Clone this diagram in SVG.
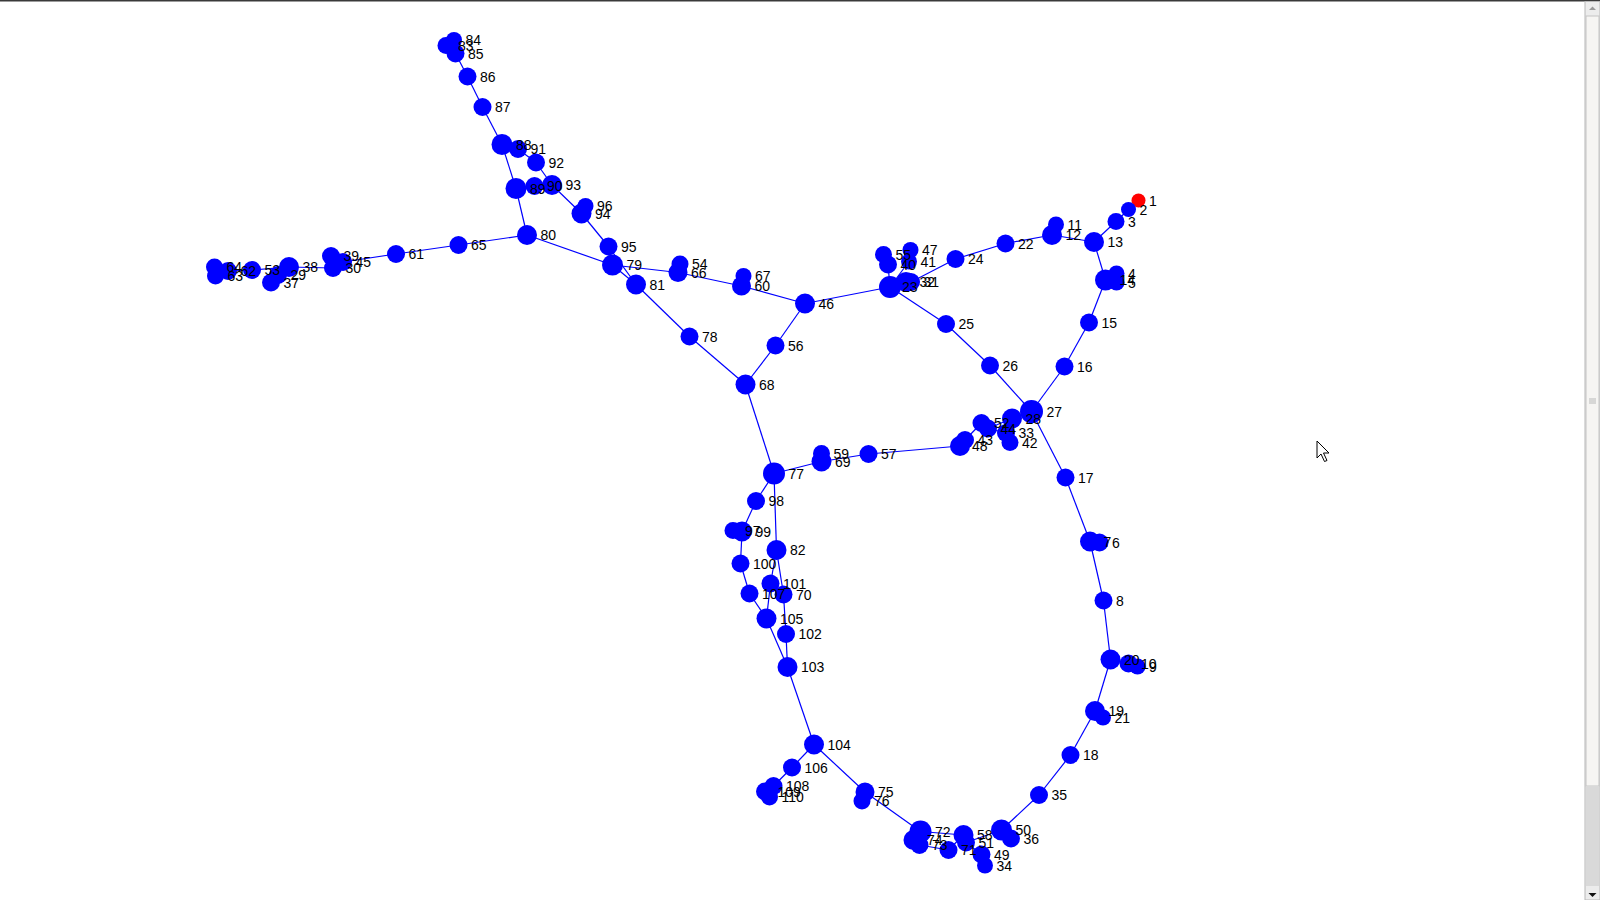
<svg xmlns="http://www.w3.org/2000/svg" width="1600" height="900" viewBox="0 0 1600 900">
<style>
.e line{stroke:#0000ff;stroke-width:1.2}
.n circle{fill:#0000ff}
.n.red circle{fill:#ff0000}
.lbl text{font-family:"Liberation Sans",Arial,sans-serif;font-size:14px;fill:#000}
</style>
<rect width="1600" height="900" fill="#ffffff"/>
<g id="connectors" class="e">
<line x1="446" y1="45.5" x2="455.5" y2="53.5"/>
<line x1="454" y1="40" x2="455.5" y2="53.5"/>
<line x1="455.5" y1="53.5" x2="467.5" y2="76.5"/>
<line x1="467.5" y1="76.5" x2="482.5" y2="107"/>
<line x1="482.5" y1="107" x2="502" y2="144.5"/>
<line x1="502" y1="144.5" x2="518" y2="149"/>
<line x1="518" y1="149" x2="536" y2="162.5"/>
<line x1="536" y1="162.5" x2="552" y2="185"/>
<line x1="502" y1="144.5" x2="516" y2="188.5"/>
<line x1="516" y1="188.5" x2="534.5" y2="186"/>
<line x1="534.5" y1="186" x2="552" y2="185"/>
<line x1="552" y1="185" x2="581.5" y2="213.5"/>
<line x1="581.5" y1="213.5" x2="585.5" y2="206"/>
<line x1="581.5" y1="213.5" x2="608.5" y2="246.5"/>
<line x1="516" y1="188.5" x2="527" y2="235"/>
<line x1="608.5" y1="246.5" x2="636" y2="284.5"/>
<line x1="527" y1="235" x2="612.5" y2="265"/>
<line x1="612.5" y1="265" x2="636" y2="284.5"/>
<line x1="612.5" y1="265" x2="678" y2="272.5"/>
<line x1="678" y1="272.5" x2="680" y2="264"/>
<line x1="678" y1="272.5" x2="741.5" y2="286"/>
<line x1="741.5" y1="286" x2="743.5" y2="276"/>
<line x1="741.5" y1="286" x2="805" y2="303.5"/>
<line x1="636" y1="284.5" x2="689.5" y2="336.5"/>
<line x1="689.5" y1="336.5" x2="745.5" y2="384.5"/>
<line x1="745.5" y1="384.5" x2="775.5" y2="345.5"/>
<line x1="775.5" y1="345.5" x2="805" y2="303.5"/>
<line x1="805" y1="303.5" x2="890" y2="287"/>
<line x1="890" y1="287" x2="888" y2="264.5"/>
<line x1="888" y1="264.5" x2="883.5" y2="254.5"/>
<line x1="890" y1="287" x2="909" y2="261.5"/>
<line x1="909" y1="261.5" x2="910.5" y2="250"/>
<line x1="890" y1="287" x2="906" y2="282"/>
<line x1="906" y1="282" x2="911" y2="282"/>
<line x1="911" y1="282" x2="955.5" y2="259"/>
<line x1="955.5" y1="259" x2="1005.5" y2="243.5"/>
<line x1="1005.5" y1="243.5" x2="1052" y2="235"/>
<line x1="1052" y1="235" x2="1056" y2="224.5"/>
<line x1="1052" y1="235" x2="1094" y2="242"/>
<line x1="1094" y1="242" x2="1116" y2="221.5"/>
<line x1="1116" y1="221.5" x2="1128.5" y2="209.5"/>
<line x1="1128.5" y1="209.5" x2="1138.5" y2="200.5"/>
<line x1="1094" y1="242" x2="1105.5" y2="280"/>
<line x1="1105.5" y1="280" x2="1116.5" y2="273.5"/>
<line x1="1105.5" y1="280" x2="1116.5" y2="282.5"/>
<line x1="1105.5" y1="280" x2="1089" y2="322.5"/>
<line x1="1089" y1="322.5" x2="1064.5" y2="366.5"/>
<line x1="1064.5" y1="366.5" x2="1031.5" y2="411.5"/>
<line x1="890" y1="287" x2="946" y2="324"/>
<line x1="946" y1="324" x2="990" y2="365.5"/>
<line x1="990" y1="365.5" x2="1031.5" y2="411.5"/>
<line x1="1031.5" y1="411.5" x2="1012" y2="418.5"/>
<line x1="1031.5" y1="411.5" x2="1065.5" y2="477.5"/>
<line x1="1065.5" y1="477.5" x2="1090" y2="541.5"/>
<line x1="1090" y1="541.5" x2="1099.5" y2="542.5"/>
<line x1="1090" y1="541.5" x2="1103.5" y2="600.5"/>
<line x1="1103.5" y1="600.5" x2="1110.5" y2="659.5"/>
<line x1="1110.5" y1="659.5" x2="1128.5" y2="663.5"/>
<line x1="1128.5" y1="663.5" x2="1137.5" y2="666.5"/>
<line x1="1110.5" y1="659.5" x2="1095" y2="711"/>
<line x1="1095" y1="711" x2="1103" y2="717.5"/>
<line x1="1095" y1="711" x2="1070.5" y2="755"/>
<line x1="1070.5" y1="755" x2="1039" y2="795"/>
<line x1="1039" y1="795" x2="1001.5" y2="830"/>
<line x1="1001.5" y1="830" x2="1011" y2="838.5"/>
<line x1="1001.5" y1="830" x2="966" y2="842.5"/>
<line x1="966" y1="842.5" x2="981.5" y2="854.5"/>
<line x1="981.5" y1="854.5" x2="985" y2="865.5"/>
<line x1="963.5" y1="835" x2="966" y2="842.5"/>
<line x1="920.5" y1="831.5" x2="963.5" y2="835"/>
<line x1="963.5" y1="835" x2="948.5" y2="850"/>
<line x1="948.5" y1="850" x2="919.5" y2="845"/>
<line x1="919.5" y1="845" x2="913.5" y2="840"/>
<line x1="913.5" y1="840" x2="920.5" y2="831.5"/>
<line x1="920.5" y1="831.5" x2="865" y2="792"/>
<line x1="865" y1="792" x2="862" y2="801"/>
<line x1="865" y1="792" x2="814" y2="744.5"/>
<line x1="814" y1="744.5" x2="792" y2="767.5"/>
<line x1="792" y1="767.5" x2="773.5" y2="786"/>
<line x1="773.5" y1="786" x2="765" y2="791.5"/>
<line x1="765" y1="791.5" x2="769.5" y2="797"/>
<line x1="814" y1="744.5" x2="787.5" y2="667"/>
<line x1="787.5" y1="667" x2="766.5" y2="618.5"/>
<line x1="787.5" y1="667" x2="786" y2="634"/>
<line x1="786" y1="634" x2="783.5" y2="594.5"/>
<line x1="783.5" y1="594.5" x2="776.5" y2="550"/>
<line x1="776.5" y1="550" x2="770.5" y2="583.5"/>
<line x1="770.5" y1="583.5" x2="766.5" y2="618.5"/>
<line x1="766.5" y1="618.5" x2="749.5" y2="593.5"/>
<line x1="749.5" y1="593.5" x2="740.5" y2="563.5"/>
<line x1="740.5" y1="563.5" x2="742" y2="531.5"/>
<line x1="742" y1="531.5" x2="733" y2="530.5"/>
<line x1="742" y1="531.5" x2="756" y2="501"/>
<line x1="756" y1="501" x2="774" y2="473.5"/>
<line x1="774" y1="473.5" x2="776.5" y2="550"/>
<line x1="774" y1="473.5" x2="745.5" y2="384.5"/>
<line x1="774" y1="473.5" x2="821.5" y2="461.5"/>
<line x1="821.5" y1="461.5" x2="821.5" y2="453.5"/>
<line x1="821.5" y1="461.5" x2="868.5" y2="454"/>
<line x1="868.5" y1="454" x2="960" y2="446"/>
<line x1="960" y1="446" x2="965" y2="440"/>
<line x1="965" y1="440" x2="981.5" y2="423"/>
<line x1="981.5" y1="423" x2="988" y2="428.5"/>
<line x1="988" y1="428.5" x2="1006" y2="433"/>
<line x1="1006" y1="433" x2="1010" y2="442.5"/>
<line x1="988" y1="428.5" x2="1012" y2="418.5"/>
<line x1="527" y1="235" x2="458.5" y2="245"/>
<line x1="458.5" y1="245" x2="396" y2="254"/>
<line x1="396" y1="254" x2="343" y2="262"/>
<line x1="343" y1="262" x2="331" y2="256"/>
<line x1="343" y1="262" x2="333" y2="268"/>
<line x1="333" y1="268" x2="289" y2="267"/>
<line x1="289" y1="267" x2="278" y2="275"/>
<line x1="278" y1="275" x2="271" y2="282.5"/>
<line x1="289" y1="267" x2="252" y2="270"/>
<line x1="252" y1="270" x2="228" y2="271"/>
<line x1="228" y1="271" x2="214.5" y2="267"/>
<line x1="228" y1="271" x2="215.5" y2="276"/>
</g>
<g id="nodes">
<g id="n1" class="n red"><circle cx="1138.5" cy="200.5" r="7"/></g>
<g id="n2" class="n"><circle cx="1128.5" cy="209.5" r="7.5"/></g>
<g id="n3" class="n"><circle cx="1116" cy="221.5" r="8.5"/></g>
<g id="n4" class="n"><circle cx="1116.5" cy="273.5" r="8"/></g>
<g id="n5" class="n"><circle cx="1116.5" cy="282.5" r="8"/></g>
<g id="n6" class="n"><circle cx="1099.5" cy="542.5" r="9"/></g>
<g id="n7" class="n"><circle cx="1090" cy="541.5" r="10"/></g>
<g id="n8" class="n"><circle cx="1103.5" cy="600.5" r="9"/></g>
<g id="n9" class="n"><circle cx="1137.5" cy="666.5" r="8"/></g>
<g id="n10" class="n"><circle cx="1128.5" cy="663.5" r="9"/></g>
<g id="n11" class="n"><circle cx="1056" cy="224.5" r="8"/></g>
<g id="n12" class="n"><circle cx="1052" cy="235" r="10"/></g>
<g id="n13" class="n"><circle cx="1094" cy="242" r="10"/></g>
<g id="n14" class="n"><circle cx="1105.5" cy="280" r="10.5"/></g>
<g id="n15" class="n"><circle cx="1089" cy="322.5" r="9"/></g>
<g id="n16" class="n"><circle cx="1064.5" cy="366.5" r="9"/></g>
<g id="n17" class="n"><circle cx="1065.5" cy="477.5" r="9"/></g>
<g id="n18" class="n"><circle cx="1070.5" cy="755" r="9"/></g>
<g id="n19" class="n"><circle cx="1095" cy="711" r="10"/></g>
<g id="n20" class="n"><circle cx="1110.5" cy="659.5" r="10"/></g>
<g id="n21" class="n"><circle cx="1103" cy="717.5" r="8"/></g>
<g id="n22" class="n"><circle cx="1005.5" cy="243.5" r="9"/></g>
<g id="n23" class="n"><circle cx="890" cy="287" r="11"/></g>
<g id="n24" class="n"><circle cx="955.5" cy="259" r="9"/></g>
<g id="n25" class="n"><circle cx="946" cy="324" r="9"/></g>
<g id="n26" class="n"><circle cx="990" cy="365.5" r="9"/></g>
<g id="n27" class="n"><circle cx="1031.5" cy="411.5" r="11.5"/></g>
<g id="n28" class="n"><circle cx="1012" cy="418.5" r="10"/></g>
<g id="n29" class="n"><circle cx="278" cy="275" r="9"/></g>
<g id="n30" class="n"><circle cx="333" cy="268" r="9"/></g>
<g id="n31" class="n"><circle cx="911" cy="282" r="9"/></g>
<g id="n32" class="n"><circle cx="906" cy="282" r="10"/></g>
<g id="n33" class="n"><circle cx="1006" cy="433" r="9"/></g>
<g id="n34" class="n"><circle cx="985" cy="865.5" r="8"/></g>
<g id="n35" class="n"><circle cx="1039" cy="795" r="9"/></g>
<g id="n36" class="n"><circle cx="1011" cy="838.5" r="9"/></g>
<g id="n37" class="n"><circle cx="271" cy="282.5" r="9"/></g>
<g id="n38" class="n"><circle cx="289" cy="267" r="10"/></g>
<g id="n39" class="n"><circle cx="331" cy="256" r="9"/></g>
<g id="n40" class="n"><circle cx="888" cy="264.5" r="9"/></g>
<g id="n41" class="n"><circle cx="909" cy="261.5" r="8"/></g>
<g id="n42" class="n"><circle cx="1010" cy="442.5" r="8.5"/></g>
<g id="n43" class="n"><circle cx="965" cy="440" r="9"/></g>
<g id="n44" class="n"><circle cx="988" cy="428.5" r="9"/></g>
<g id="n45" class="n"><circle cx="343" cy="262" r="9"/></g>
<g id="n46" class="n"><circle cx="805" cy="303.5" r="10"/></g>
<g id="n47" class="n"><circle cx="910.5" cy="250" r="8"/></g>
<g id="n48" class="n"><circle cx="960" cy="446" r="10"/></g>
<g id="n49" class="n"><circle cx="981.5" cy="854.5" r="9"/></g>
<g id="n50" class="n"><circle cx="1001.5" cy="830" r="10.5"/></g>
<g id="n51" class="n"><circle cx="966" cy="842.5" r="9"/></g>
<g id="n52" class="n"><circle cx="981.5" cy="423" r="9"/></g>
<g id="n53" class="n"><circle cx="252" cy="270" r="9"/></g>
<g id="n54" class="n"><circle cx="680" cy="264" r="8.5"/></g>
<g id="n55" class="n"><circle cx="883.5" cy="254.5" r="8.5"/></g>
<g id="n56" class="n"><circle cx="775.5" cy="345.5" r="9"/></g>
<g id="n57" class="n"><circle cx="868.5" cy="454" r="9"/></g>
<g id="n58" class="n"><circle cx="963.5" cy="835" r="10"/></g>
<g id="n59" class="n"><circle cx="821.5" cy="453.5" r="8.5"/></g>
<g id="n60" class="n"><circle cx="741.5" cy="286" r="9.5"/></g>
<g id="n61" class="n"><circle cx="396" cy="254" r="9"/></g>
<g id="n62" class="n"><circle cx="228" cy="271" r="9"/></g>
<g id="n63" class="n"><circle cx="215.5" cy="276" r="8.5"/></g>
<g id="n64" class="n"><circle cx="214.5" cy="267" r="8.5"/></g>
<g id="n65" class="n"><circle cx="458.5" cy="245" r="9"/></g>
<g id="n66" class="n"><circle cx="678" cy="272.5" r="9.5"/></g>
<g id="n67" class="n"><circle cx="743.5" cy="276" r="8"/></g>
<g id="n68" class="n"><circle cx="745.5" cy="384.5" r="10"/></g>
<g id="n69" class="n"><circle cx="821.5" cy="461.5" r="10"/></g>
<g id="n70" class="n"><circle cx="783.5" cy="594.5" r="9"/></g>
<g id="n71" class="n"><circle cx="948.5" cy="850" r="9"/></g>
<g id="n72" class="n"><circle cx="920.5" cy="831.5" r="11"/></g>
<g id="n73" class="n"><circle cx="919.5" cy="845" r="9"/></g>
<g id="n74" class="n"><circle cx="913.5" cy="840" r="10"/></g>
<g id="n75" class="n"><circle cx="865" cy="792" r="9.5"/></g>
<g id="n76" class="n"><circle cx="862" cy="801" r="8.5"/></g>
<g id="n77" class="n"><circle cx="774" cy="473.5" r="11"/></g>
<g id="n78" class="n"><circle cx="689.5" cy="336.5" r="9"/></g>
<g id="n79" class="n"><circle cx="612.5" cy="265" r="10.5"/></g>
<g id="n80" class="n"><circle cx="527" cy="235" r="10"/></g>
<g id="n81" class="n"><circle cx="636" cy="284.5" r="10"/></g>
<g id="n82" class="n"><circle cx="776.5" cy="550" r="10"/></g>
<g id="n83" class="n"><circle cx="446" cy="45.5" r="8.5"/></g>
<g id="n84" class="n"><circle cx="454" cy="40" r="8"/></g>
<g id="n85" class="n"><circle cx="455.5" cy="53.5" r="9"/></g>
<g id="n86" class="n"><circle cx="467.5" cy="76.5" r="9"/></g>
<g id="n87" class="n"><circle cx="482.5" cy="107" r="9"/></g>
<g id="n88" class="n"><circle cx="502" cy="144.5" r="10.5"/></g>
<g id="n89" class="n"><circle cx="516" cy="188.5" r="10.5"/></g>
<g id="n90" class="n"><circle cx="534.5" cy="186" r="9"/></g>
<g id="n91" class="n"><circle cx="518" cy="149" r="9"/></g>
<g id="n92" class="n"><circle cx="536" cy="162.5" r="9"/></g>
<g id="n93" class="n"><circle cx="552" cy="185" r="10"/></g>
<g id="n94" class="n"><circle cx="581.5" cy="213.5" r="10"/></g>
<g id="n95" class="n"><circle cx="608.5" cy="246.5" r="9"/></g>
<g id="n96" class="n"><circle cx="585.5" cy="206" r="8"/></g>
<g id="n97" class="n"><circle cx="733" cy="530.5" r="8.5"/></g>
<g id="n98" class="n"><circle cx="756" cy="501" r="9"/></g>
<g id="n99" class="n"><circle cx="742" cy="531.5" r="10"/></g>
<g id="n100" class="n"><circle cx="740.5" cy="563.5" r="9"/></g>
<g id="n101" class="n"><circle cx="770.5" cy="583.5" r="9"/></g>
<g id="n102" class="n"><circle cx="786" cy="634" r="9"/></g>
<g id="n103" class="n"><circle cx="787.5" cy="667" r="10"/></g>
<g id="n104" class="n"><circle cx="814" cy="744.5" r="10"/></g>
<g id="n105" class="n"><circle cx="766.5" cy="618.5" r="10"/></g>
<g id="n106" class="n"><circle cx="792" cy="767.5" r="9"/></g>
<g id="n107" class="n"><circle cx="749.5" cy="593.5" r="9"/></g>
<g id="n108" class="n"><circle cx="773.5" cy="786" r="9"/></g>
<g id="n109" class="n"><circle cx="765" cy="791.5" r="9"/></g>
<g id="n110" class="n"><circle cx="769.5" cy="797" r="8.5"/></g>
</g>
<g id="node-labels" class="lbl">
<text x="1149" y="205.5">1</text>
<text x="1139.5" y="214.5">2</text>
<text x="1128" y="226.5">3</text>
<text x="1128" y="278.5">4</text>
<text x="1128" y="287.5">5</text>
<text x="1112" y="547.5">6</text>
<text x="1103.5" y="546.5">7</text>
<text x="1116" y="605.5">8</text>
<text x="1149" y="671.5">9</text>
<text x="1141" y="668.5">10</text>
<text x="1067.5" y="229.5">11</text>
<text x="1065.5" y="240">12</text>
<text x="1107.5" y="247">13</text>
<text x="1119.5" y="285">14</text>
<text x="1101.5" y="327.5">15</text>
<text x="1077" y="371.5">16</text>
<text x="1078" y="482.5">17</text>
<text x="1083" y="760">18</text>
<text x="1108.5" y="716">19</text>
<text x="1124" y="664.5">20</text>
<text x="1114.5" y="722.5">21</text>
<text x="1018" y="248.5">22</text>
<text x="902" y="292">23</text>
<text x="968" y="264">24</text>
<text x="958.5" y="329">25</text>
<text x="1002.5" y="370.5">26</text>
<text x="1046.5" y="416.5">27</text>
<text x="1025.5" y="423.5">28</text>
<text x="290.5" y="280">29</text>
<text x="345.5" y="273">30</text>
<text x="923.5" y="287">31</text>
<text x="919.5" y="287">32</text>
<text x="1018.5" y="438">33</text>
<text x="996.5" y="870.5">34</text>
<text x="1051.5" y="800">35</text>
<text x="1023.5" y="843.5">36</text>
<text x="283.5" y="287.5">37</text>
<text x="302.5" y="272">38</text>
<text x="343.5" y="261">39</text>
<text x="900.5" y="269.5">40</text>
<text x="920.5" y="266.5">41</text>
<text x="1022" y="447.5">42</text>
<text x="977.5" y="445">43</text>
<text x="1000.5" y="433.5">44</text>
<text x="355.5" y="267">45</text>
<text x="818.5" y="308.5">46</text>
<text x="922" y="255">47</text>
<text x="972" y="451">48</text>
<text x="994" y="859.5">49</text>
<text x="1015.5" y="835">50</text>
<text x="978.5" y="847.5">51</text>
<text x="994" y="428">52</text>
<text x="264.5" y="275">53</text>
<text x="692" y="269">54</text>
<text x="895.5" y="259.5">55</text>
<text x="788" y="350.5">56</text>
<text x="881" y="459">57</text>
<text x="977" y="840">58</text>
<text x="833.5" y="458.5">59</text>
<text x="754.5" y="291">60</text>
<text x="408.5" y="259">61</text>
<text x="240.5" y="276">62</text>
<text x="227.5" y="281">63</text>
<text x="226.5" y="272">64</text>
<text x="471" y="250">65</text>
<text x="691" y="277.5">66</text>
<text x="755" y="281">67</text>
<text x="759" y="389.5">68</text>
<text x="835" y="466.5">69</text>
<text x="796" y="599.5">70</text>
<text x="961" y="855">71</text>
<text x="935" y="836.5">72</text>
<text x="932" y="850">73</text>
<text x="927" y="845">74</text>
<text x="878" y="797">75</text>
<text x="874" y="806">76</text>
<text x="788.5" y="478.5">77</text>
<text x="702" y="341.5">78</text>
<text x="626.5" y="270">79</text>
<text x="540.5" y="240">80</text>
<text x="649.5" y="289.5">81</text>
<text x="790" y="555">82</text>
<text x="458" y="50.5">83</text>
<text x="465.5" y="45">84</text>
<text x="468" y="58.5">85</text>
<text x="480" y="81.5">86</text>
<text x="495" y="112">87</text>
<text x="516" y="149.5">88</text>
<text x="530" y="193.5">89</text>
<text x="547" y="191">90</text>
<text x="530.5" y="154">91</text>
<text x="548.5" y="167.5">92</text>
<text x="565.5" y="190">93</text>
<text x="595" y="218.5">94</text>
<text x="621" y="251.5">95</text>
<text x="597" y="211">96</text>
<text x="745" y="535.5">97</text>
<text x="768.5" y="506">98</text>
<text x="755.5" y="536.5">99</text>
<text x="753" y="568.5">100</text>
<text x="783" y="588.5">101</text>
<text x="798.5" y="639">102</text>
<text x="801" y="672">103</text>
<text x="827.5" y="749.5">104</text>
<text x="780" y="623.5">105</text>
<text x="804.5" y="772.5">106</text>
<text x="762" y="598.5">107</text>
<text x="786" y="791">108</text>
<text x="777.5" y="796.5">109</text>
<text x="781.5" y="802">110</text>
</g>
<g id="browser-frame">
<rect x="0" y="0" width="1600" height="1.5" fill="#3a3a3a"/>
<rect x="1585" y="1.5" width="15" height="898.5" fill="#ececec" stroke="#b8b8b8" stroke-width="1"/>
<rect x="1586" y="16" width="13" height="770" fill="#f6f5f3" stroke="#c4c4c4" stroke-width="1"/>
<rect x="1586" y="786" width="13" height="100" fill="#d9d9d9"/>
<path d="M1589,10 L1592.5,6.5 L1596,10 Z" fill="#999"/>
<path d="M1588.5,893 L1596.5,893 L1592.5,897 Z" fill="#111"/>
<path d="M1589,399 H1596 M1589,401 H1596 M1589,403 H1596" stroke="#aaa" stroke-width="0.8"/>
<path d="M1317,441 L1317,458 L1321,454 L1324.5,461.5 L1327,460.5 L1323.5,453 L1329,453 Z" fill="#fff" stroke="#000" stroke-width="1"/>
</g>
</svg>
